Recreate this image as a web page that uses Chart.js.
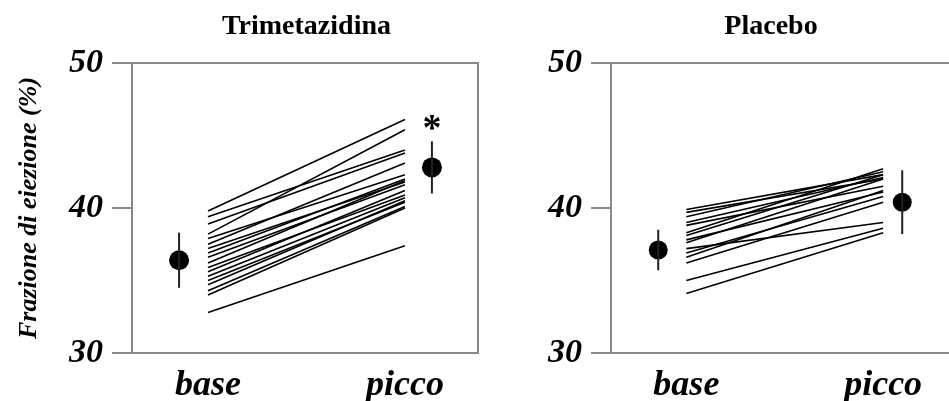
<!DOCTYPE html>
<html>
<head>
<meta charset="utf-8">
<script src="https://cdn.jsdelivr.net/npm/chart.js@4.4.0/dist/chart.umd.min.js"></script>
<style>
  html, body { margin: 0; padding: 0; background: #fff; overflow: hidden; width: 949px; height: 401px; }
  .panel { position: absolute; top: 0; height: 401px; }
  #left { left: 0; width: 488px; }
  #right { left: 480px; width: 488px; }
</style>
</head>
<body>
<div class="panel" id="left"><canvas id="trim"></canvas></div>
<div class="panel" id="right"><canvas id="plac"></canvas></div>
<script>
// data
const categories = ['base', 'picco'];
const yTicks = [30, 40, 50];

const trimBase  = [39.8, 39.4, 38.9, 38.2, 37.9, 37.5, 37.2, 36.9, 36.6, 36.2, 35.9, 35.6, 35.3, 35.0, 34.7, 34.3, 34.0, 32.8];
const trimPicco = [46.1, 44.0, 43.8, 45.4, 42.3, 43.1, 41.8, 42.0, 41.6, 41.9, 40.9, 41.2, 40.7, 40.4, 40.5, 40.1, 40.0, 37.4];
const trimMean  = [36.4, 42.8];
const trimSD    = [1.9, 1.8];

const placBase  = [39.9, 39.7, 39.4, 39.0, 38.8, 38.3, 38.1, 37.8, 37.6, 37.2, 36.9, 36.6, 36.2, 35.0, 34.1];
const placPicco = [42.3, 42.0, 42.5, 42.1, 41.5, 42.7, 42.3, 41.1, 42.0, 39.0, 40.8, 41.2, 40.4, 38.6, 38.3];
const placMean  = [37.1, 40.4];
const placSD    = [1.4, 2.2];

const AXIS = '#8a8a8a';
const SERIF = '"Liberation Serif", "DejaVu Serif", serif';

const panelDecor = {
  id: 'panelDecor',
  afterDatasetsDraw(chart, args, opts) {
    const { ctx, chartArea: a, scales: { x, y } } = chart;
    ctx.save();
    // frame
    ctx.strokeStyle = AXIS;
    ctx.lineWidth = 2;
    ctx.strokeRect(a.left, a.top, a.right - a.left, a.bottom - a.top);
    // title
    ctx.fillStyle = '#000';
    ctx.font = 'bold 28px ' + SERIF;
    ctx.textAlign = 'center';
    ctx.textBaseline = 'middle';
    ctx.fillText(opts.title, x.getPixelForValue(opts.titleAt), 27);
    // significance mark
    if (opts.star) {
      ctx.font = 'bold 38px ' + SERIF;
      ctx.textBaseline = 'alphabetic';
      ctx.fillText('*', x.getPixelForValue(opts.star.x), y.getPixelForValue(opts.star.y) + 18);
    }
    ctx.restore();
  }
};

function makeChart(id, base, picco, mean, sd, o) {
  const datasets = [];
  base.forEach((b, i) => {
    datasets.push({
      data: [{ x: 0, y: b }, { x: 1, y: picco[i] }],
      showLine: true, borderColor: '#000', borderWidth: 1.6, pointRadius: 0
    });
  });
  mean.forEach((m, i) => {
    datasets.push({
      data: [{ x: o.meanX[i], y: m - sd[i] }, { x: o.meanX[i], y: m + sd[i] }],
      showLine: true, borderColor: '#222', borderWidth: 2, pointRadius: 0
    });
  });
  datasets.push({
    data: mean.map((m, i) => ({ x: o.meanX[i], y: m })),
    pointRadius: o.dot, backgroundColor: '#000', borderColor: '#000', borderWidth: 0
  });

  return new Chart(document.getElementById(id), {
    type: 'scatter',
    data: { datasets },
    plugins: [panelDecor],
    options: {
      responsive: true,
      maintainAspectRatio: false,
      animation: false,
      layout: { padding: { top: 63, right: 2, bottom: 0, left: 0 } },
      plugins: {
        legend: { display: false },
        tooltip: { enabled: false },
        panelDecor: { title: o.title, titleAt: o.titleAt, star: o.star }
      },
      scales: {
        x: {
          type: 'linear', min: o.xMin, max: o.xMax,
          afterBuildTicks: s => { s.ticks = categories.map((c, i) => ({ value: i })); },
          afterFit: s => { s.height = 48; },
          ticks: {
            autoSkip: false, maxRotation: 0, padding: 3, color: '#000',
            font: { family: SERIF, size: 36, weight: 'bold', style: 'italic' },
            callback: (v, i) => categories[i]
          },
          grid: { display: false },
          border: { display: false }
        },
        y: {
          min: 30, max: 50,
          afterBuildTicks: s => { s.ticks = yTicks.map(v => ({ value: v })); },
          afterFit: s => { s.width = o.yWidth; },
          ticks: {
            padding: 9, color: '#000',
            font: { family: SERIF, size: 34, weight: 'bold', style: 'italic' }
          },
          grid: { drawOnChartArea: false, tickLength: 20, color: AXIS, lineWidth: 2 },
          border: { display: false },
          title: {
            display: o.yTitle, text: 'Frazione di eiezione (%)', color: '#000',
            padding: { top: 14, bottom: 0 },
            font: { family: SERIF, size: 26, weight: 'bold', style: 'italic' }
          }
        }
      }
    }
  });
}

makeChart('trim', trimBase, trimPicco, trimMean, trimSD, {
  title: 'Trimetazidina', titleAt: 0.5, yTitle: true, yWidth: 132,
  xMin: -0.386, xMax: 1.371, meanX: [-0.147, 1.137], dot: 10,
  star: { x: 1.137, y: 45.9 }
});

makeChart('plac', placBase, placPicco, placMean, placSD, {
  title: 'Placebo', titleAt: 0.43, yTitle: false, yWidth: 131,
  xMin: -0.383, xMax: 1.383, meanX: [-0.143, 1.097], dot: 9.5,
  star: null
});
</script>
</body>
</html>
